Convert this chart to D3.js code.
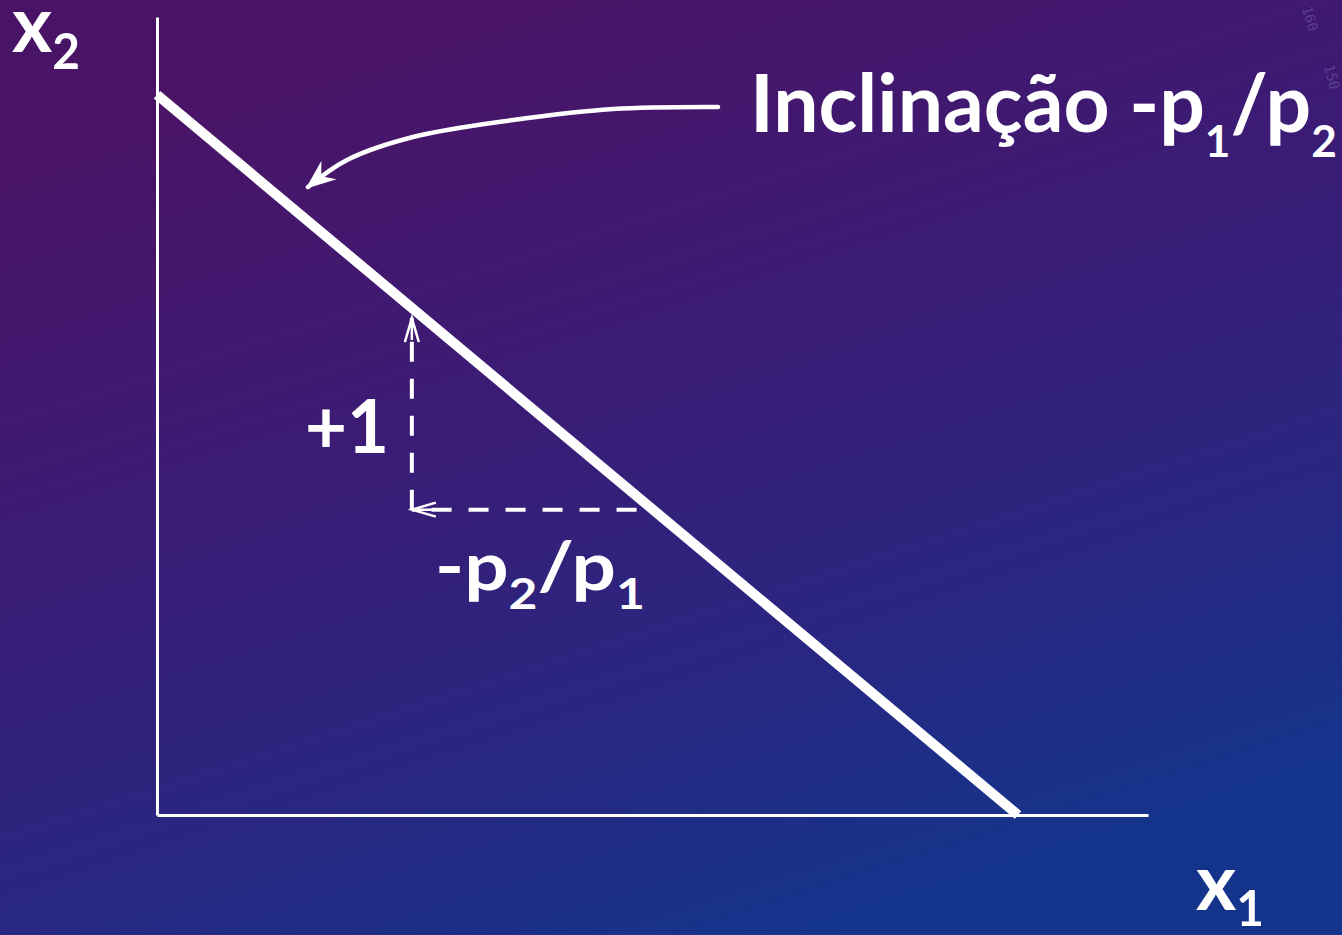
<!DOCTYPE html>
<html>
<head>
<meta charset="utf-8">
<script src="https://cdn.jsdelivr.net/npm/d3@7"></script>
<style>
  html, body { margin: 0; padding: 0; background: #2c1c70; overflow: hidden; }
  svg { display: block; }
</style>
</head>
<body>
<svg id="chart" width="1342" height="935"></svg>
<script>
// Budget line p1*x1 + p2*x2 = m, drawn in goods units
const budgetIntercepts = [10, 10];      // m/p1 on the x1 axis, m/p2 on the x2 axis
const axisMax = [11.51, 11.08];         // visible length of each axis
const stepStartX1 = 5.57;               // where the horizontal step leaves the line
const stepCorner = [2.96, 4.24];        // corner of the slope triangle
const stepEndX2 = 6.9;                  // where the vertical step meets the line again
// callout curve from the slope label to the line
const calloutX1 = [6.516, 5.296, 4.135, 2.973, 2.207, 1.754];
const calloutX2 = [9.831, 9.803, 9.650, 9.414, 9.095, 8.720];

// text pieces: even entries normal, odd entries subscript
const slopeLabel = ["Inclinação -p", "1", "/p", "2"];
const riseLabel = ["+1"];
const runLabel = ["-p", "2", "/p", "1"];
const x1Label = ["x", "1"];
const x2Label = ["x", "2"];

const W = 1342, H = 935;
const svg = d3.select("#chart");
const FONT = "Lato, 'Open Sans', sans-serif";

// background
const defs = svg.append("defs");
const bg = defs.append("linearGradient").attr("id", "bg")
  .attr("gradientUnits", "userSpaceOnUse")
  .attr("x1", 520).attr("y1", 0).attr("x2", 820).attr("y2", H);
[["0", "#4a1466"], ["0.4", "#3a1c76"], ["0.7", "#2a2680"], ["1", "#14348c"]]
  .forEach(([o, c]) => bg.append("stop").attr("offset", o).attr("stop-color", c));
svg.append("rect").attr("width", W).attr("height", H).attr("fill", "url(#bg)");

// arrow heads
defs.append("marker").attr("id", "bigHead")
  .attr("viewBox", "-34 -15 38 30").attr("markerUnits", "userSpaceOnUse")
  .attr("markerWidth", 38).attr("markerHeight", 30)
  .attr("refX", -3).attr("refY", 0).attr("orient", "auto")
  .append("path").attr("d", "M0,0 L-30,-12 L-20,0 L-30,12 Z").attr("fill", "#fff");
defs.append("marker").attr("id", "smallHead")
  .attr("viewBox", "-28 -10 32 20").attr("markerUnits", "userSpaceOnUse")
  .attr("markerWidth", 32).attr("markerHeight", 20)
  .attr("refX", 0).attr("refY", 0).attr("orient", "auto")
  .append("path").attr("d", "M-24,-7 L0,0 L-24,7 M0,0 L-22,0")
  .attr("fill", "none").attr("stroke", "#fff").attr("stroke-width", 2.5)
  .attr("stroke-linejoin", "miter");

// scales
const x = d3.scaleLinear().domain([0, axisMax[0]]).range([157, 1148]);
const y = d3.scaleLinear().domain([0, axisMax[1]]).range([815, 17]);

// axes without ticks
const axG = svg.append("g");
axG.append("g").attr("transform", `translate(0,${y(0)})`)
  .call(d3.axisBottom(x).tickValues([]).tickSizeOuter(0));
axG.append("g").attr("transform", `translate(${x(0)},0)`)
  .call(d3.axisLeft(y).tickValues([]).tickSizeOuter(0));
axG.selectAll(".domain").attr("stroke", "#fff").attr("stroke-width", 3);

// budget line
const line = d3.line().x(d => x(d[0])).y(d => y(d[1]));
svg.append("path")
  .datum([[0, budgetIntercepts[1]], [budgetIntercepts[0], 0]])
  .attr("d", line).attr("fill", "none")
  .attr("stroke", "#fff").attr("stroke-width", 10).attr("stroke-linecap", "butt");

// slope triangle: horizontal run then vertical rise
svg.append("path")
  .datum([[stepStartX1, stepCorner[1]], stepCorner])
  .attr("d", line).attr("fill", "none").attr("stroke", "#fff")
  .attr("stroke-width", 4).attr("stroke-dasharray", "20 17")
  .attr("marker-end", "url(#smallHead)");
svg.append("path")
  .datum([stepCorner, [stepCorner[0], stepEndX2]])
  .attr("d", line).attr("fill", "none").attr("stroke", "#fff")
  .attr("stroke-width", 4).attr("stroke-dasharray", "20 17")
  .attr("marker-end", "url(#smallHead)");

// callout curve
const curve = d3.line().x(d => x(d[0])).y(d => y(d[1])).curve(d3.curveCatmullRom);
svg.append("path")
  .datum(d3.zip(calloutX1, calloutX2))
  .attr("d", curve)
  .attr("fill", "none").attr("stroke", "#fff").attr("stroke-width", 4.5)
  .attr("stroke-linecap", "round")
  .attr("marker-end", "url(#bigHead)");

// label with subscripts, squeezed to the given width
function label(parts, px, py, size, subSize, shift, width) {
  const t = svg.append("text").attr("x", px).attr("y", py)
    .attr("font-family", FONT).attr("font-weight", 700)
    .attr("font-size", size).attr("fill", "#fff");
  parts.forEach((p, i) => {
    const sub = i % 2 === 1;
    t.append("tspan").text(p)
      .attr("font-size", sub ? subSize : size)
      .attr("dy", i === 0 ? 0 : (sub ? shift : -shift));
  });
  const bb = t.node().getBBox();
  const sx = width / bb.width;
  t.attr("transform", `translate(${px},0) scale(${sx},1) translate(${-px},0)`);
  return t;
}

label(slopeLabel, 750, 132, 80, 44, 25, 587);
label(x2Label, 12, 52, 79, 49, 17, 68);
label(x1Label, 1196, 910, 79, 49, 16, 68);
label(riseLabel, 305, 453, 74, 74, 0, 84);
label(runLabel, 435, 590, 66, 42, 19, 210);

// faint ruler marks in the top-right corner
const ruler = svg.append("g").attr("opacity", 0.22)
  .attr("transform", "translate(1300,0) rotate(75)");
ruler.append("text").attr("x", 8).attr("y", 0).text("160")
  .attr("font-family", "'DejaVu Sans Mono', monospace").attr("font-size", 14).attr("fill", "#c9b8f0");
ruler.append("text").attr("x", 70).attr("y", -6).text("150")
  .attr("font-family", "'DejaVu Sans Mono', monospace").attr("font-size", 14).attr("fill", "#c9b8f0");
</script>
</body>
</html>
